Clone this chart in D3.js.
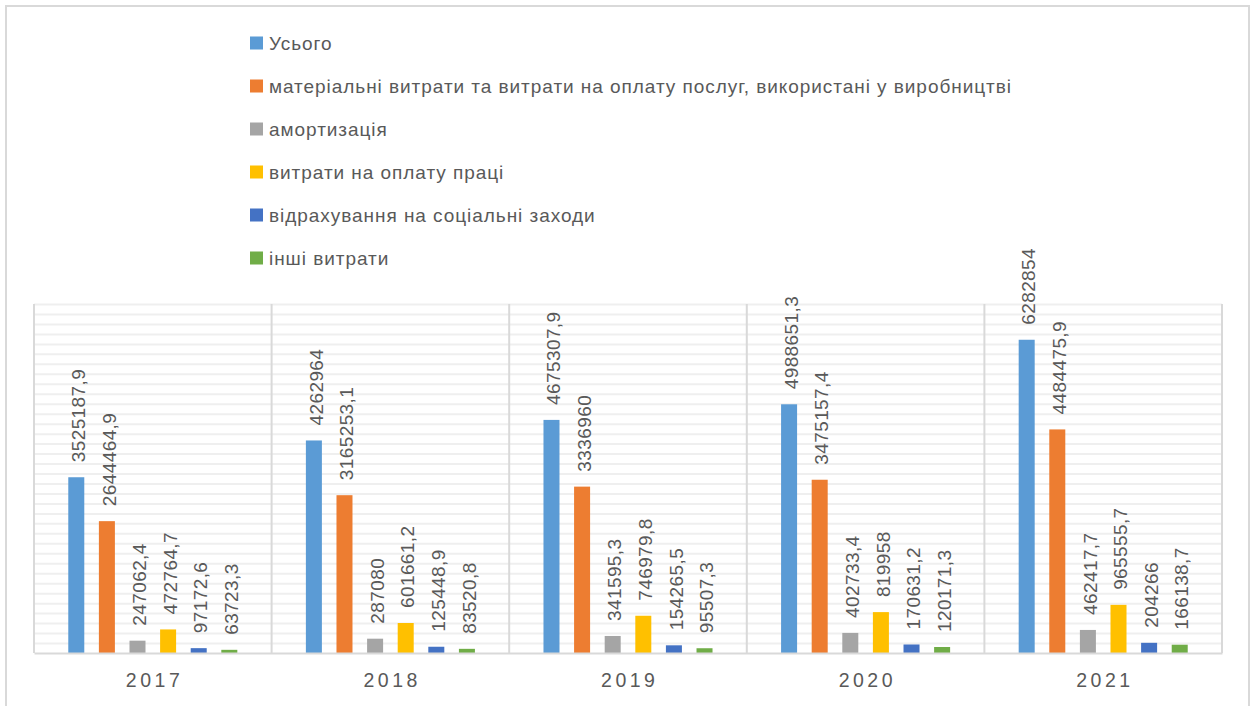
<!DOCTYPE html>
<html>
<head>
<meta charset="utf-8">
<script src="https://cdn.jsdelivr.net/npm/d3@7"></script>
<style>
  body { margin: 0; background: #fff; }
  text { font-family: 'Liberation Sans', Arial, sans-serif; fill: #595959; }
</style>
</head>
<body>
<div class="container"></div>
<script>
var years = ['2017', '2018', '2019', '2020', '2021']
var seriesNames = [
  'Усього',
  'матеріальні витрати та витрати на оплату послуг, використані у виробництві',
  'амортизація',
  'витрати на оплату праці',
  'відрахування на соціальні заходи',
  'інші витрати'
]
var colors = ['#5B9BD5', '#ED7D31', '#A5A5A5', '#FFC000', '#4472C4', '#70AD47']

// one array per series, values by year
var total      = [3525187.9, 4262964, 4675307.9, 4988651.3, 6282854]
var material   = [2644464.9, 3165253.1, 3336960, 3475157.4, 4484475.9]
var amort      = [247062.4, 287080, 341595.3, 402733.4, 462417.7]
var wages      = [472764.7, 601661.2, 746979.8, 819958, 965555.7]
var social     = [97172.6, 125448.9, 154265.5, 170631.2, 204266]
var other      = [63723.3, 83520.8, 95507.3, 120171.3, 166138.7]
var seriesValues = [total, material, amort, wages, social, other]

var yMax = 7000000
var yStep = 200000

var W = 1254, H = 706
var svg = d3.select('.container').append('svg').attr('width', W).attr('height', H)

// outer frame
svg.append('rect')
  .attr('x', 6).attr('y', 6).attr('width', 1243).attr('height', 740)
  .attr('fill', '#fff').attr('stroke', '#D9D9D9').attr('stroke-width', 2)

var plot = {left: 34, right: 1222, top: 304, bottom: 653}

var x0 = d3.scaleBand().domain(years).range([plot.left, plot.right]).padding(0)
var x1 = d3.scaleBand().domain(d3.range(seriesNames.length))
  .range([0, x0.bandwidth()]).paddingInner(0.477).paddingOuter(1.12)
var y = d3.scaleLinear().domain([0, yMax]).range([plot.bottom, plot.top])

// horizontal gridlines
var grid = svg.append('g')
  .attr('transform', 'translate(' + plot.left + ',0)')
  .call(d3.axisLeft(y)
    .tickValues(d3.range(yStep, yMax + 1, yStep))
    .tickSize(-(plot.right - plot.left))
    .tickFormat(''))
grid.select('.domain').remove()
grid.selectAll('.tick line').attr('stroke', '#EFEFEF').attr('stroke-width', 2)

// category separators
svg.append('g').selectAll('line')
  .data(years.concat(['end']))
  .join('line')
  .attr('x1', d => d == 'end' ? plot.right : x0(d))
  .attr('x2', d => d == 'end' ? plot.right : x0(d))
  .attr('y1', plot.top).attr('y2', plot.bottom)
  .attr('stroke', '#D9D9D9').attr('stroke-width', 2)

// bars
var groups = svg.append('g').selectAll('g.year')
  .data(years)
  .join('g')
  .attr('transform', d => 'translate(' + x0(d) + ',0)')

var cells = groups.selectAll('g.bar')
  .data((yr, yi) => seriesValues.map((vals, si) => ({si: si, v: vals[yi]})))
  .join('g')

cells.append('rect')
  .attr('x', d => x1(d.si))
  .attr('width', x1.bandwidth())
  .attr('y', d => y(d.v))
  .attr('height', d => plot.bottom - y(d.v))
  .attr('fill', d => colors[d.si])

cells.append('text')
  .attr('transform', d => 'translate(' + (x1(d.si) + x1.bandwidth() / 2 + 2) + ',' + (y(d.v) - 15) + ') rotate(-90)')
  .attr('dy', '0.35em')
  .style('font-size', '19px')
  .style('letter-spacing', '0.4px')
  .text(d => String(d.v).replace('.', ','))

// x axis
var xAxis = svg.append('g')
  .attr('transform', 'translate(0,' + plot.bottom + ')')
  .call(d3.axisBottom(x0).tickSize(0).tickPadding(20))
xAxis.select('.domain').attr('stroke', '#D9D9D9').attr('stroke-width', 2)
xAxis.selectAll('text')
  .style('font-size', '19.5px')
  .style('letter-spacing', '3.5px')
  .attr('fill', '#595959')
  .attr('dx', '1.75px')
  .attr('font-family', null)

// legend
var legend = svg.append('g').selectAll('g')
  .data(seriesNames)
  .join('g')
  .attr('transform', (d, i) => 'translate(250,' + (43 + i * 43) + ')')
legend.append('rect')
  .attr('y', -6.5).attr('width', 13).attr('height', 13)
  .attr('fill', (d, i) => colors[i])
legend.append('text')
  .attr('x', 19).attr('dy', '0.35em')
  .style('font-size', '19px')
  .style('letter-spacing', '0.95px')
  .text(d => d)
</script>
</body>
</html>
